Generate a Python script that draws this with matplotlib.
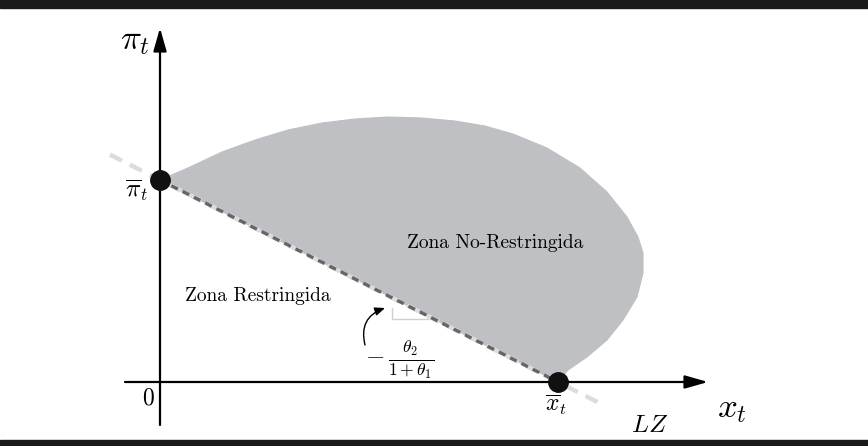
import matplotlib
matplotlib.use("Agg")
import matplotlib.pyplot as plt
from matplotlib.patches import Rectangle, Polygon
import numpy as np

plt.rcParams['mathtext.fontset'] = 'cm'

# key values (model units, origin at axes crossing)
pi_bar = 2.02
x_bar = 3.98

# boundary of the unrestricted zone
zone_x = [0.0, 0.28, 0.62, 0.95, 1.28, 1.62, 1.95, 2.28, 2.62, 2.95, 3.25, 3.53, 3.87,
          4.20, 4.47, 4.67, 4.78, 4.83, 4.83, 4.77, 4.63, 4.47, 4.27, 4.08, 3.98]
zone_y = [2.02, 2.14, 2.30, 2.42, 2.52, 2.59, 2.63, 2.65, 2.64, 2.61, 2.56, 2.48, 2.34,
          2.14, 1.90, 1.65, 1.45, 1.29, 1.09, 0.85, 0.62, 0.42, 0.25, 0.12, 0.0]

# LZ line extension ends
lz_x = [-0.5, 4.45]

fig = plt.figure(figsize=(8.68, 4.46), dpi=100)
ax = fig.add_axes([0, 0, 1, 1])
ax.set_xlim(-1.6, 7.08)
ax.set_ylim(-0.64, 3.82)
ax.axis('off')

# black bars top and bottom
fig.patches.append(Rectangle((0, 1 - 8 / 446), 1, 8 / 446, transform=fig.transFigure,
                             color='#1a1a1a', zorder=0))
fig.patches.append(Rectangle((0, 0), 1, 6 / 446, transform=fig.transFigure,
                             color='#1a1a1a', zorder=0))

# shaded zone
pts = np.column_stack([zone_x, zone_y])
ax.add_patch(Polygon(pts, closed=True, facecolor='#bfc0c3', edgecolor='#bfc0c3',
                     lw=0.8, joinstyle='round', zorder=1))

# LZ line
slope = -pi_bar / x_bar
ax.plot(lz_x, [pi_bar + slope * v for v in lz_x], color='#dcdcdc', lw=3.2,
        dashes=(3, 2), zorder=2)
ax.plot([0, x_bar], [pi_bar, 0], color='#666666', lw=2.4, dashes=(2.2, 1.6), zorder=3)

# axes arrows
ax.annotate('', xy=(5.48, 0.0), xytext=(-0.35, 0.0),
            arrowprops=dict(arrowstyle='-|>,head_length=1.4,head_width=0.4',
                            lw=1.6, color='black', shrinkA=0, shrinkB=0), zorder=4)
ax.annotate('', xy=(0.0, 3.54), xytext=(0.0, -0.43),
            arrowprops=dict(arrowstyle='-|>,head_length=1.4,head_width=0.4',
                            lw=1.6, color='black', shrinkA=0, shrinkB=0), zorder=4)

# points
ax.plot([0, x_bar], [pi_bar, 0], 'o', color='#111111', ms=14, zorder=5)

# labels
ax.text(-0.25, 3.42, r'$\pi_t$', fontsize=25, ha='center', va='center')
ax.text(-0.23, 1.92, r'$\overline{\pi}_t$', fontsize=18, ha='center', va='center')
ax.text(-0.12, -0.16, '0', family='cmr10', fontsize=17, ha='center', va='center')
ax.text(3.96, -0.23, r'$\overline{x}_t$', fontsize=17, ha='center', va='center')
ax.text(5.72, -0.26, r'$x_t$', fontsize=25, ha='center', va='center')
ax.text(4.90, -0.43, r'$LZ$', fontsize=18, ha='center', va='center')
ax.text(3.35, 1.39, 'Zona No-Restringida', family='cmr10', fontsize=14,
        ha='center', va='center')
ax.text(0.98, 0.86, 'Zona Restringida', family='cmr10', fontsize=14,
        ha='center', va='center')
ax.text(2.40, 0.22, r'$-\,\frac{\theta_2}{1+\theta_1}$', fontsize=18,
        ha='center', va='center')

# curved arrow and right angle mark
ax.annotate('', xy=(2.25, 0.74), xytext=(2.05, 0.37),
            arrowprops=dict(arrowstyle='-|>,head_length=0.6,head_width=0.25',
                            connectionstyle='arc3,rad=-0.45', lw=1.0, color='black',
                            shrinkA=0, shrinkB=0), zorder=4)
ax.plot([2.32, 2.32, 2.68], [0.74, 0.63, 0.63], color='#cfcfcf', lw=1.0, zorder=2)

fig.savefig('out.png', dpi=100)
